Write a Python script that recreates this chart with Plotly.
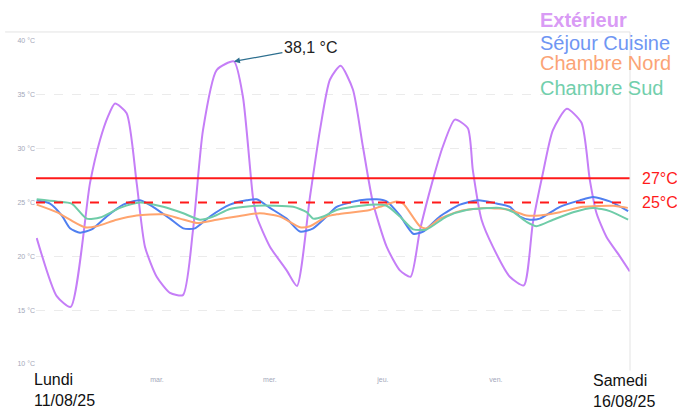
import pandas as pd
import plotly.graph_objects as go

# hours since Monday 11/08/25 00:00
ext_h = [-1.55, 2.7, 5.67, 9.77, 11.9, 13.6, 15.08, 17.56, 19.69, 21.45, 23.94, 26.76, 29.52, 31.65, 33.77, 36.68,
         40.35, 42.27, 44.39, 45.18, 48.0, 51.55, 53.74, 56.5, 58.62, 60.74, 63.02, 65.63, 67.75, 69.88, 72.79,
         75.61, 77.88, 79.86, 82.62, 84.74, 87.29, 90.05, 91.11, 92.96, 95.36, 98.97, 101.95, 103.86, 105.98,
         108.1, 111.08, 114.2, 115.96, 117.39, 119.51, 122.34, 124.46]
ext_t = [21.7, 16.3, 15.3, 26.8, 30.8, 33.0, 34.2, 33.3, 26.8, 20.9, 18.1, 16.6, 16.4, 22.4, 31.7, 37.3,
         38.1, 34.8, 25.5, 23.7, 20.9, 18.7, 17.25, 25.5, 31.7, 36.4, 37.7, 35.5, 30.2, 25.0, 20.9,
         18.7, 18.1, 22.4, 27.1, 30.2, 32.7, 31.9, 28.0, 23.4, 20.9, 18.1, 17.3, 23.1, 27.7,
         31.7, 33.7, 32.4, 27.1, 24.0, 21.8, 20.0, 18.6]

sejour_h = [-1.55, 1.27, 3.76, 5.52, 7.65, 10.13, 13.32, 16.84, 20.39, 23.15, 26.76, 29.59, 32.07, 35.26, 39.5,
            43.05, 45.18, 48.0, 51.55, 54.37, 57.2, 60.04, 62.17, 67.12, 70.66, 72.79, 75.61, 78.44, 80.56,
            84.1, 88.35, 92.24, 96.15, 98.97, 101.1, 103.22, 105.35, 109.6, 113.84, 116.67, 120.21, 124.1]
sejour_t = [25.2, 24.9, 23.8, 22.6, 22.2, 22.5, 23.7, 24.8, 25.2, 24.6, 23.5, 22.6, 22.6, 23.7, 24.8,
            25.2, 25.3, 24.5, 23.5, 22.3, 22.6, 23.7, 24.6, 25.2, 25.3, 25.1, 23.8, 22.1, 22.3,
            23.7, 24.8, 25.2, 24.9, 24.6, 23.7, 23.4, 23.5, 24.6, 25.2, 25.5, 25.1, 24.2]

nord_h = [-1.55, 2.7, 5.52, 8.71, 11.19, 15.44, 19.69, 25.34, 28.89, 32.43, 36.68, 40.93, 45.88, 50.12, 54.37,
          56.5, 60.04, 62.17, 69.24, 71.36, 74.91, 76.31, 79.86, 81.28, 84.1, 88.35, 94.03, 98.97, 102.52,
          105.35, 109.6, 114.54, 120.91, 124.03]
nord_t = [24.8, 24.1, 23.4, 22.7, 22.8, 23.4, 23.8, 23.9, 23.5, 23.1, 23.4, 23.7, 24.0, 23.7, 22.7,
          22.8, 23.7, 23.9, 24.3, 24.6, 25.1, 24.9, 22.8, 22.6, 23.5, 24.2, 24.5, 24.3, 23.8,
          23.8, 24.1, 24.6, 24.7, 24.5]

sud_h = [-1.55, 2.7, 5.88, 9.07, 11.89, 16.14, 20.39, 25.34, 29.59, 33.13, 35.96, 39.5, 45.18, 52.95, 55.8,
         57.2, 59.32, 62.17, 69.24, 72.79, 75.61, 78.44, 81.28, 85.53, 89.78, 96.85, 99.68, 102.52, 104.64,
         108.17, 112.42, 116.67, 120.21, 124.1]
sud_t = [25.3, 25.1, 24.9, 23.5, 23.6, 24.5, 25.0, 24.6, 24.0, 23.4, 23.7, 24.4, 24.7, 24.6, 24.1,
         23.5, 23.7, 24.3, 24.8, 24.7, 23.7, 22.5, 22.5, 23.7, 24.3, 24.5, 24.1, 23.2, 22.8,
         23.4, 24.1, 24.5, 24.2, 23.4]

series_names = ["Extérieur", "Séjour Cuisine", "Chambre Nord", "Chambre Sud"]
series_colors = ["#c57ef7", "#4f7ff0", "#ffa46e", "#6fcca8"]
label_colors = ["#d99bf5", "#6f96f3", "#fba476", "#72cfac"]

day_ticks = [24, 48, 72, 96]
day_labels = ["mar.", "mer.", "jeu.", "ven."]
y_ticks = [10, 15, 20, 25, 30, 35, 40]
y_labels = ["10 °C", "15 °C", "20 °C", "25 °C", "30 °C", "35 °C", "40 °C"]

seuil_haut = 27.25
seuil_bas = 25.0
pic_h, pic_t = 40.35, 38.1

FONT = "Liberation Sans, Arial, sans-serif"

fig = go.Figure()
for (xs, ys), name, col in zip([(ext_h, ext_t), (sejour_h, sejour_t), (nord_h, nord_t), (sud_h, sud_t)],
                               series_names, series_colors):
    fig.add_trace(go.Scatter(x=xs, y=ys, mode="lines", name=name,
                             line=dict(color=col, width=2, shape="spline", smoothing=0.6)))

fig.add_hline(y=seuil_haut, line=dict(color="#ff1a1a", width=2))
fig.add_hline(y=seuil_bas, line=dict(color="#ff1a1a", width=2, dash="dash"))

# frame lines (screenshot border)
fig.add_shape(type="line", xref="paper", yref="paper", x0=-0.052, x1=1.0, y0=1.028, y1=1.028,
              line=dict(color="#e3e3e3", width=1))
fig.add_shape(type="line", xref="paper", yref="paper", x0=1.0, x1=1.0, y0=1.028, y1=-0.04,
              line=dict(color="#e3e3e3", width=1))

ann = []
legend_y = [1.065, 0.994, 0.932, 0.855]
for name, col, yy in zip(series_names, label_colors, legend_y):
    txt = "<b>%s</b>" % name if name == "Extérieur" else name
    ann.append(dict(text=txt, xref="paper", yref="paper", x=0.845, y=yy, xanchor="left", yanchor="middle",
                    showarrow=False, font=dict(family=FONT, size=20, color=col)))
ann.append(dict(text="27°C", xref="paper", yref="y", x=1.017, y=seuil_haut, xanchor="left", yanchor="middle",
                showarrow=False, font=dict(family=FONT, size=16, color="#ff1a1a")))
ann.append(dict(text="25°C", xref="paper", yref="y", x=1.017, y=seuil_bas, xanchor="left", yanchor="middle",
                showarrow=False, font=dict(family=FONT, size=16, color="#ff1a1a")))
ann.append(dict(text="38,1 °C", x=pic_h, y=pic_t, xref="x", yref="y", ax=77, ay=-14,
                showarrow=True, arrowhead=2, arrowsize=1, arrowwidth=1.2, arrowcolor="#2d6f8f",
                font=dict(family=FONT, size=16, color="#222222")))
ann.append(dict(text="Lundi<br>11/08/25", xref="paper", yref="paper", x=-0.006, y=-0.082, xanchor="left",
                yanchor="middle", align="left", showarrow=False, bgcolor="white",
                font=dict(family=FONT, size=16, color="#111111")))
ann.append(dict(text="Samedi<br>16/08/25", xref="paper", yref="paper", x=0.935, y=-0.084, xanchor="left",
                yanchor="middle", align="left", showarrow=False, bgcolor="white",
                font=dict(family=FONT, size=16, color="#111111")))

fig.update_layout(
    width=677, height=410, autosize=False,
    margin=dict(l=36, r=47, t=41, b=46),
    paper_bgcolor="white", plot_bgcolor="white",
    showlegend=False,
    annotations=ann,
    font=dict(family=FONT),
)
fig.update_xaxes(range=[-1.7, 124.5], tickmode="array", tickvals=day_ticks, ticktext=day_labels,
                 showgrid=False, zeroline=False, showline=False, ticks="",
                 tickfont=dict(size=7, color="#a3a8ba"), ticklabelstandoff=10)
fig.update_yaxes(range=[10, 40], tickmode="array", tickvals=y_ticks, ticktext=y_labels,
                 showgrid=True, gridcolor="#ebebeb", griddash="dash", gridwidth=1,
                 zeroline=False, showline=False, ticks="",
                 tickfont=dict(size=7, color="#a3a8ba"))

fig.write_html("out.html", config={"displayModeBar": False},
               post_script="document.body.style.margin='0';")
